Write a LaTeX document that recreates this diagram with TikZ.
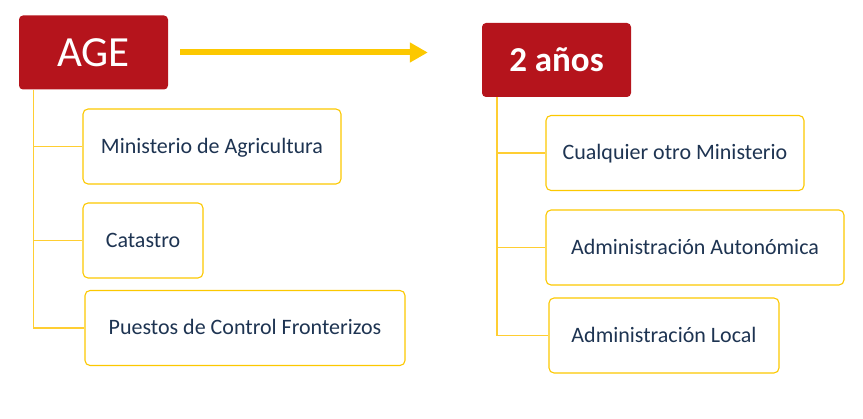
\documentclass[tikz,border=0pt]{standalone}
\usepackage{fontspec}
\setmainfont{Carlito}
\usetikzlibrary{calc, arrows.meta}
\definecolor{deepred}{RGB}{181,20,28}
\definecolor{gold}{RGB}{252,200,0}
\definecolor{paleline}{RGB}{255,206,50}
\definecolor{navy}{RGB}{30,52,82}
\begin{document}
\begin{tikzpicture}[x=1pt,y=-1pt,inner sep=0pt,
  head/.style={fill=deepred,rounded corners=4pt,text=white,minimum width=149pt,minimum height=74pt},
  leaf/.style={draw=gold,line width=1.1pt,rounded corners=5pt,fill=white,text=navy,minimum height=75pt,
    text height=15pt,text depth=1.4pt,font=\fontsize{22}{26}\selectfont},
  branch/.style={draw=paleline,line width=1.5pt},
  >={Triangle[length=18pt,width=19pt]}]
\useasboundingbox (0,0) rectangle (863,419);
\draw node [head,font=\fontsize{43}{50}\selectfont] (AGE) at (93.5,52.5) {AGE};
\draw node [head,font=\fontsize{35}{42}\selectfont\bfseries] (Years) at (556.5,60) {2 años};
\draw node [leaf,minimum width=258pt] (Agri) at (212,146.5) {Ministerio de Agricultura};
\draw node [leaf,minimum width=120pt] (Cat) at (143,240.5) {Catastro};
\draw node [leaf,minimum width=320pt] (Border) at (245,328) {Puestos de Control Fronterizos};
\draw node [leaf,minimum width=258pt] (Other) at (675,153) {Cualquier otro Ministerio};
\draw node [leaf,minimum width=298pt] (Auto) at (695,247.5) {Administración Autonómica};
\draw node [leaf,minimum width=230pt] (Local) at (664,335.5) {Administración Local};
\draw [branch] ($(AGE.south west)+(14.5,0)$) |- (Agri.west);
\draw [branch] ($(AGE.south west)+(14.5,0)$) |- (Cat.west);
\draw [branch] ($(AGE.south west)+(14.5,0)$) |- (Border.west);
\draw [branch] ($(Years.south west)+(15,0)$) |- (Other.west);
\draw [branch] ($(Years.south west)+(15,0)$) |- (Auto.west);
\draw [branch] ($(Years.south west)+(15,0)$) |- (Local.west);
\draw [->,gold,line width=6pt,shorten <=12pt,shorten >=54pt] (AGE.east) -- (AGE.east -| Years.west);
\end{tikzpicture}
\end{document}
